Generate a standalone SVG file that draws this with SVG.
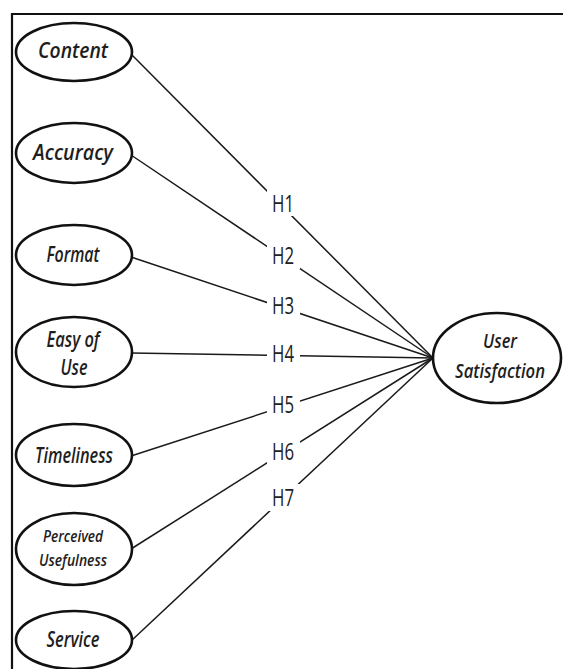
<svg xmlns="http://www.w3.org/2000/svg" width="563" height="669" viewBox="0 0 563 669">
<style>
.frame{fill:none;stroke:#111;stroke-width:2.2}
.conn{stroke:#1a1a1a;stroke-width:1.5;fill:none}
.node ellipse{fill:#fff;stroke:#111;stroke-width:2.6}
.node text{font-family:"Open Sans","Noto Sans","Liberation Sans",sans-serif;font-weight:600;font-style:italic;fill:#1e1e1e;text-anchor:middle}
.lbl rect{fill:#fff}
.lbl text{font-family:"Open Sans","Noto Sans","Liberation Sans",sans-serif;font-size:24px;fill:#222;text-anchor:middle}
</style>
<rect width="563" height="669" fill="#fff"/>
<path class="frame" d="M12,669 V14 H563"/>
<g id="connectors">
<line class="conn" x1="131" y1="54" x2="433" y2="358"/>
<line class="conn" x1="131" y1="155" x2="433" y2="358"/>
<line class="conn" x1="131" y1="257" x2="433" y2="358"/>
<line class="conn" x1="131" y1="353" x2="433" y2="358"/>
<line class="conn" x1="131" y1="456" x2="433" y2="358"/>
<line class="conn" x1="131" y1="549" x2="433" y2="358"/>
<line class="conn" x1="131" y1="641" x2="433" y2="358"/>
<g class="lbl">
<rect x="267" y="189" width="33" height="27"/><text x="283" y="212" textLength="22" lengthAdjust="spacingAndGlyphs">H1</text>
<rect x="267" y="242" width="33" height="27"/><text x="283" y="264" textLength="22" lengthAdjust="spacingAndGlyphs">H2</text>
<rect x="267" y="293" width="33" height="26"/><text x="283" y="314" textLength="22" lengthAdjust="spacingAndGlyphs">H3</text>
<rect x="267" y="341" width="33" height="26"/><text x="283" y="362" textLength="22" lengthAdjust="spacingAndGlyphs">H4</text>
<rect x="267" y="391" width="33" height="27"/><text x="283" y="413" textLength="22" lengthAdjust="spacingAndGlyphs">H5</text>
<rect x="267" y="439" width="33" height="26"/><text x="283" y="460" textLength="22" lengthAdjust="spacingAndGlyphs">H6</text>
<rect x="267" y="484" width="33" height="27"/><text x="283" y="506" textLength="22" lengthAdjust="spacingAndGlyphs">H7</text>
</g>
</g>
<g id="content" class="node"><ellipse cx="74" cy="52" rx="58" ry="29"/><text x="73" y="58" font-size="21" textLength="70" lengthAdjust="spacingAndGlyphs">Content</text></g>
<g id="accuracy" class="node"><ellipse cx="74" cy="153" rx="58" ry="30"/><text x="73" y="160" font-size="21" textLength="80" lengthAdjust="spacingAndGlyphs">Accuracy</text></g>
<g id="format" class="node"><ellipse cx="74" cy="255" rx="58" ry="30"/><text x="73" y="262" font-size="21" textLength="53" lengthAdjust="spacingAndGlyphs">Format</text></g>
<g id="easy-of-use" class="node"><ellipse cx="74" cy="352" rx="58" ry="35"/><text x="73" y="347" font-size="21" textLength="53" lengthAdjust="spacingAndGlyphs">Easy of</text><text x="74" y="375" font-size="21" textLength="27" lengthAdjust="spacingAndGlyphs">Use</text></g>
<g id="timeliness" class="node"><ellipse cx="74" cy="455" rx="58" ry="31"/><text x="74" y="463" font-size="21" textLength="78" lengthAdjust="spacingAndGlyphs">Timeliness</text></g>
<g id="perceived-usefulness" class="node"><ellipse cx="74" cy="549" rx="58" ry="36"/><text x="73" y="542" font-size="17" textLength="60" lengthAdjust="spacingAndGlyphs">Perceived</text><text x="73" y="566" font-size="17" textLength="68" lengthAdjust="spacingAndGlyphs">Usefulness</text></g>
<g id="service" class="node"><ellipse cx="74" cy="640" rx="58" ry="29"/><text x="73" y="647" font-size="21" textLength="53" lengthAdjust="spacingAndGlyphs">Service</text></g>
<g id="user-satisfaction" class="node"><ellipse cx="497" cy="358" rx="64" ry="45"/><text x="500" y="348" font-size="19" textLength="34" lengthAdjust="spacingAndGlyphs">User</text><text x="500" y="378" font-size="19" textLength="90" lengthAdjust="spacingAndGlyphs">Satisfaction</text></g>
</svg>
